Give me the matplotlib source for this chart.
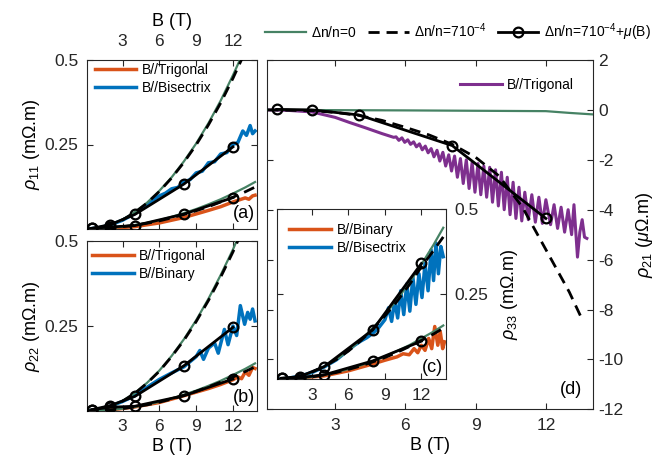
import matplotlib
matplotlib.use('Agg')
import matplotlib.pyplot as plt

plt.rcParams['font.family'] = ['Liberation Sans', 'DejaVu Sans']
plt.rcParams['mathtext.fontset'] = 'custom'
plt.rcParams['mathtext.rm'] = 'Liberation Sans'
plt.rcParams['mathtext.it'] = 'Liberation Sans:italic'
plt.rcParams['mathtext.bf'] = 'Liberation Sans:bold'
plt.rcParams['axes.unicode_minus'] = False

# ---- data ----
B_smooth = [0.1, 1, 2, 3, 4, 5, 6, 7, 8, 9, 10, 11, 12, 13, 13.8]
B_circ = [0.5, 2, 4, 8, 12]

# panel (a) rho_11
a_green_hi = [0.0, 0.003, 0.012, 0.028, 0.05, 0.078, 0.113, 0.153, 0.2, 0.253, 0.313, 0.38, 0.455, 0.535, 0.605]
a_dash_hi = [0.0, 0.003, 0.012, 0.027, 0.049, 0.077, 0.111, 0.151, 0.197, 0.249, 0.308, 0.373, 0.446, 0.525, 0.595]
a_green_lo = [0.0, 0.001, 0.003, 0.007, 0.012, 0.018, 0.026, 0.036, 0.047, 0.059, 0.073, 0.088, 0.105, 0.123, 0.139]
a_dash_lo = [0.0, 0.001, 0.003, 0.007, 0.011, 0.017, 0.024, 0.033, 0.043, 0.054, 0.066, 0.08, 0.094, 0.11, 0.124]
a_circ_hi = [0.002, 0.013, 0.043, 0.133, 0.243]
a_circ_lo = [0.002, 0.006, 0.01, 0.044, 0.093]
Ba_blue = [0.1, 1, 2, 3, 4, 5, 5.5, 6, 6.5, 7, 7.5, 8, 8.5, 9, 9.5, 10, 10.5, 11, 11.5, 12, 12.4, 12.8, 13.1, 13.4, 13.6, 13.8]
a_blue = [0.0, 0.003, 0.012, 0.026, 0.046, 0.072, 0.086, 0.098, 0.106, 0.119, 0.123, 0.139, 0.146, 0.166, 0.171, 0.196, 0.199, 0.222, 0.226, 0.25, 0.256, 0.29, 0.277, 0.306, 0.282, 0.29]
Ba_orange = [0.1, 2, 4, 6, 8, 10, 11, 12, 12.5, 13, 13.3, 13.6, 13.8]
a_orange = [0.0, 0.002, 0.007, 0.018, 0.034, 0.055, 0.066, 0.08, 0.086, 0.092, 0.088, 0.098, 0.1]

# panel (b) rho_22
b_green_hi = [0.0, 0.003, 0.013, 0.03, 0.053, 0.083, 0.119, 0.162, 0.211, 0.267, 0.33, 0.4, 0.475, 0.56, 0.63]
b_dash_hi = [0.0, 0.003, 0.013, 0.029, 0.052, 0.082, 0.117, 0.16, 0.208, 0.263, 0.325, 0.394, 0.468, 0.55, 0.62]
b_green_lo = [0.0, 0.001, 0.003, 0.007, 0.012, 0.019, 0.027, 0.037, 0.048, 0.06, 0.074, 0.089, 0.106, 0.124, 0.14]
b_dash_lo = [0.0, 0.001, 0.003, 0.007, 0.012, 0.018, 0.026, 0.035, 0.046, 0.058, 0.071, 0.085, 0.1, 0.116, 0.13]
b_circ_hi = [0.004, 0.016, 0.043, 0.133, 0.246]
b_circ_lo = [0.004, 0.011, 0.014, 0.045, 0.094]
Bb_blue = [0.1, 1, 2, 3, 4, 5, 6, 7, 8, 8.5, 9, 9.3, 9.6, 10, 10.5, 10.8, 11.3, 11.6, 12, 12.3, 12.6, 12.95, 13.2, 13.4, 13.6, 13.8]
b_blue = [0.0, 0.004, 0.014, 0.028, 0.045, 0.07, 0.093, 0.112, 0.13, 0.145, 0.16, 0.178, 0.152, 0.185, 0.2, 0.17, 0.24, 0.195, 0.25, 0.222, 0.31, 0.255, 0.29, 0.27, 0.3, 0.265]
Bb_orange = [0.1, 2, 4, 6, 8, 10, 11, 12, 12.4, 12.7, 13, 13.3, 13.6, 13.8]
b_orange = [0.0, 0.003, 0.012, 0.025, 0.045, 0.066, 0.078, 0.092, 0.1, 0.095, 0.115, 0.105, 0.128, 0.125]

# panel (c) rho_33 (inset)
c_green_hi = [0.0, 0.002, 0.009, 0.021, 0.037, 0.058, 0.084, 0.115, 0.15, 0.19, 0.234, 0.283, 0.337, 0.395, 0.445]
c_dash_hi = [0.0, 0.002, 0.009, 0.021, 0.037, 0.058, 0.083, 0.113, 0.147, 0.186, 0.229, 0.277, 0.33, 0.378, 0.418]
c_green_lo = [0.0, 0.001, 0.003, 0.007, 0.013, 0.021, 0.03, 0.041, 0.053, 0.067, 0.083, 0.1, 0.12, 0.14, 0.158]
c_dash_lo = [0.0, 0.001, 0.003, 0.007, 0.013, 0.02, 0.029, 0.039, 0.051, 0.064, 0.079, 0.096, 0.114, 0.133, 0.15]
c_circ_hi = [0.003, 0.008, 0.037, 0.145, 0.34]
c_circ_lo = [0.003, 0.005, 0.013, 0.054, 0.112]
Bc_blue = [0.1, 1, 2, 3, 4, 5, 6, 6.5, 7, 7.5, 8, 8.5, 9, 9.3, 9.55, 9.8, 10.05, 10.3, 10.55, 10.8, 11.05, 11.3,
           11.55, 11.8, 12.05, 12.3, 12.55, 12.8, 13.0, 13.2, 13.4, 13.6, 13.8]
c_blue = [0.0, 0.003, 0.009, 0.02, 0.036, 0.057, 0.086, 0.1, 0.112, 0.122, 0.135, 0.152, 0.175, 0.21, 0.17, 0.23,
          0.18, 0.26, 0.19, 0.28, 0.2, 0.3, 0.22, 0.31, 0.24, 0.34, 0.26, 0.38, 0.29, 0.4, 0.31, 0.39, 0.36]
Bc_orange = [0.1, 2, 4, 6, 8, 9, 10, 10.5, 11, 11.4, 11.7, 12.0, 12.3, 12.6, 12.85, 13.1, 13.35, 13.55, 13.75, 13.9]
c_orange = [0.0, 0.004, 0.01, 0.025, 0.045, 0.056, 0.066, 0.075, 0.072, 0.09, 0.078, 0.1, 0.085, 0.12, 0.09,
            0.155, 0.1, 0.14, 0.09, 0.11]

# panel (d) rho_21
Bd_green = [0.1, 6, 10, 12, 13, 14]
d_green = [0.0, -0.02, -0.04, -0.05, -0.12, -0.18]
d_circ = [0.02, 0.0, -0.2, -1.43, -4.35]
Bd_dash = [0.1, 2, 3, 4, 5, 6, 7, 8, 9, 10, 11, 12, 13, 13.5]
d_dash = [0.0, -0.03, -0.1, -0.22, -0.42, -0.7, -1.0, -1.38, -1.9, -2.65, -3.9, -5.6, -7.3, -8.3]
Bd_purple = [0.1, 1.0, 2.0, 3.0, 3.6, 4.3, 5.0, 5.5, 5.6, 5.72, 5.85, 5.97, 6.1, 6.22, 6.35, 6.47, 6.6, 6.72,
             6.85, 6.97, 7.1, 7.22, 7.35, 7.47, 7.6, 7.72, 7.85, 7.97, 8.1, 8.22, 8.35, 8.47, 8.6, 8.72, 8.85,
             8.97, 9.1, 9.22, 9.35, 9.47, 9.6, 9.72, 9.85, 9.97, 10.1, 10.22, 10.35, 10.47, 10.6, 10.72, 10.85,
             10.97, 11.1, 11.25, 11.4, 11.55, 11.7, 11.85, 12.0, 12.2, 12.35, 12.5, 12.65, 12.8, 12.95, 13.1,
             13.2, 13.35, 13.45, 13.55, 13.65, 13.75]
d_purple = [0.0, -0.02, -0.08, -0.3, -0.5, -0.72, -0.95, -1.1, -1.08, -1.22, -1.12, -1.3, -1.2, -1.38, -1.28,
            -1.48, -1.36, -1.6, -1.45, -1.72, -1.55, -1.88, -1.62, -2.05, -1.7, -2.25, -1.8, -2.45, -1.85, -2.7,
            -1.95, -2.95, -2.0, -3.15, -2.1, -3.3, -2.15, -3.4, -2.25, -3.5, -2.3, -3.7, -2.4, -3.85, -2.5, -4.0,
            -2.7, -4.2, -2.9, -4.35, -3.1, -4.45, -3.3, -4.4, -3.4, -4.5, -3.5, -4.55, -3.6, -4.6, -3.8, -4.75,
            -3.9, -4.9, -4.0, -5.0, -3.8, -5.9, -4.9, -4.4, -5.1, -5.15]

rho_ticks = [0.25, 0.5]
rho_ticklabels = ['0.25', '0.5']

orange = '#D95319'
blue = '#0072BD'
purple = '#7E2F8E'
green = '#468264'
axcol = '#262626'
dash = (4, 2.5)


def style(ax, yt, ylim, ylabels=None):
    ax.set_xlim(0.1, 14)
    ax.set_ylim(*ylim)
    ax.set_xticks([3, 6, 9, 12])
    ax.set_yticks(yt)
    if ylabels is not None:
        ax.set_yticklabels(ylabels)
    ax.tick_params(direction='in', top=True, right=True, length=4, width=0.8,
                   labelsize=12.5, colors=axcol, pad=6)
    for s in ax.spines.values():
        s.set_linewidth(0.8)
        s.set_color(axcol)


def models(ax, g_hi, d_hi, c_hi, g_lo, d_lo, c_lo):
    for g, d, c in ((g_hi, d_hi, c_hi), (g_lo, d_lo, c_lo)):
        ax.plot(B_smooth, g, color=green, lw=1.6, zorder=3)
        ax.plot(B_smooth, d, color='k', lw=2, dashes=dash, zorder=4)
        ax.plot(B_circ, c, color='k', lw=2, marker='o', ms=7, mfc='none', mew=1.6, zorder=5)


leg_kw = dict(frameon=False, fontsize=10, handlelength=3.0, handletextpad=0.4, labelspacing=0.3,
              borderpad=0, borderaxespad=0, loc='upper left')

fig = plt.figure(figsize=(6.64, 4.66), dpi=100)
ax_a = fig.add_axes([87 / 664, 1 - 229 / 466, 170.5 / 664, 169 / 466])
ax_b = fig.add_axes([87 / 664, 1 - 411 / 466, 170.5 / 664, 170 / 466])
ax_d = fig.add_axes([267.3 / 664, 1 - 409.3 / 466, 325.4 / 664, 349.3 / 466])
ax_c = fig.add_axes([276.7 / 664, 1 - 379.3 / 466, 169 / 664, 170.3 / 466])

# (a)
ax_a.plot(Ba_orange, a_orange, color=orange, lw=2.5, label='B//Trigonal')
ax_a.plot(Ba_blue, a_blue, color=blue, lw=2.5, label='B//Bisectrix')
models(ax_a, a_green_hi, a_dash_hi, a_circ_hi, a_green_lo, a_dash_lo, a_circ_lo)
style(ax_a, rho_ticks, (0, 0.5), rho_ticklabels)
ax_a.tick_params(labelbottom=False, labeltop=True)
ax_a.tick_params(axis='x', pad=8)
ax_a.xaxis.set_label_position('top')
ax_a.set_xlabel('B (T)', fontsize=13, labelpad=6)
ax_a.set_ylabel(r'$\rho_{11}$ (m$\Omega$.m)', fontsize=13, labelpad=2)
ax_a.legend(bbox_to_anchor=(0.045, 0.985), **leg_kw)
ax_a.text(0.985, 0.09, '(a)', transform=ax_a.transAxes, ha='right', va='center', fontsize=13)

# (b)
ax_b.plot(Bb_orange, b_orange, color=orange, lw=2.5, label='B//Trigonal')
ax_b.plot(Bb_blue, b_blue, color=blue, lw=2.5, label='B//Binary')
models(ax_b, b_green_hi, b_dash_hi, b_circ_hi, b_green_lo, b_dash_lo, b_circ_lo)
style(ax_b, rho_ticks, (0, 0.5), rho_ticklabels)
ax_b.set_xlabel('B (T)', fontsize=13, labelpad=3)
ax_b.set_ylabel(r'$\rho_{22}$ (m$\Omega$.m)', fontsize=13, labelpad=2)
ax_b.legend(bbox_to_anchor=(0.03, 0.955), **leg_kw)
ax_b.text(0.985, 0.082, '(b)', transform=ax_b.transAxes, ha='right', va='center', fontsize=13)

# (d)
l_purple, = ax_d.plot(Bd_purple, d_purple, color=purple, lw=2.2, label='B//Trigonal', zorder=2)
l_green, = ax_d.plot(Bd_green, d_green, color=green, lw=1.6, zorder=3)
l_dash, = ax_d.plot(Bd_dash, d_dash, color='k', lw=2, dashes=dash, zorder=4)
l_circ, = ax_d.plot(B_circ, d_circ, color='k', lw=2, marker='o', ms=7, mfc='none', mew=1.6, zorder=5)
style(ax_d, list(range(-12, 3, 2)), (-12, 2))
ax_d.tick_params(labelleft=False, labelright=True)
ax_d.tick_params(axis='y', pad=4)
ax_d.yaxis.set_label_position('right')
ax_d.set_ylabel(r'$\rho_{21}$ ($\mu\Omega$.m)', fontsize=13, labelpad=8)
ax_d.set_xlabel('B (T)', fontsize=13, labelpad=3)
ax_d.legend(handles=[l_purple], bbox_to_anchor=(0.592, 0.948), **leg_kw)
ax_d.text(0.966, 0.058, '(d)', transform=ax_d.transAxes, ha='right', va='center', fontsize=13)

# (c) inset
ax_c.plot(Bc_orange, c_orange, color=orange, lw=2.5, label='B//Binary')
ax_c.plot(Bc_blue, c_blue, color=blue, lw=2.5, label='B//Bisectrix')
models(ax_c, c_green_hi, c_dash_hi, c_circ_hi, c_green_lo, c_dash_lo, c_circ_lo)
style(ax_c, rho_ticks, (0, 0.5), rho_ticklabels)
ax_c.tick_params(labelleft=False, labelright=True)
ax_c.yaxis.set_label_position('right')
ax_c.set_ylabel(r'$\rho_{33}$ (m$\Omega$.m)', fontsize=13, labelpad=8)
ax_c.legend(bbox_to_anchor=(0.075, 0.92), **leg_kw)
ax_c.text(0.984, 0.072, '(c)', transform=ax_c.transAxes, ha='right', va='center', fontsize=13)

fig.legend([l_green, l_dash, l_circ],
           [r'$\Delta$n/n=0', r'$\Delta$n/n=710$^{-4}$', r'$\Delta$n/n=710$^{-4}$+$\mu$(B)'],
           loc='center', bbox_to_anchor=(458 / 664, 1 - 32 / 466), ncol=3, frameon=False, fontsize=10,
           handlelength=2.9, handletextpad=0.4, columnspacing=0.8, borderpad=0)

fig.savefig('out.png', dpi=100)
